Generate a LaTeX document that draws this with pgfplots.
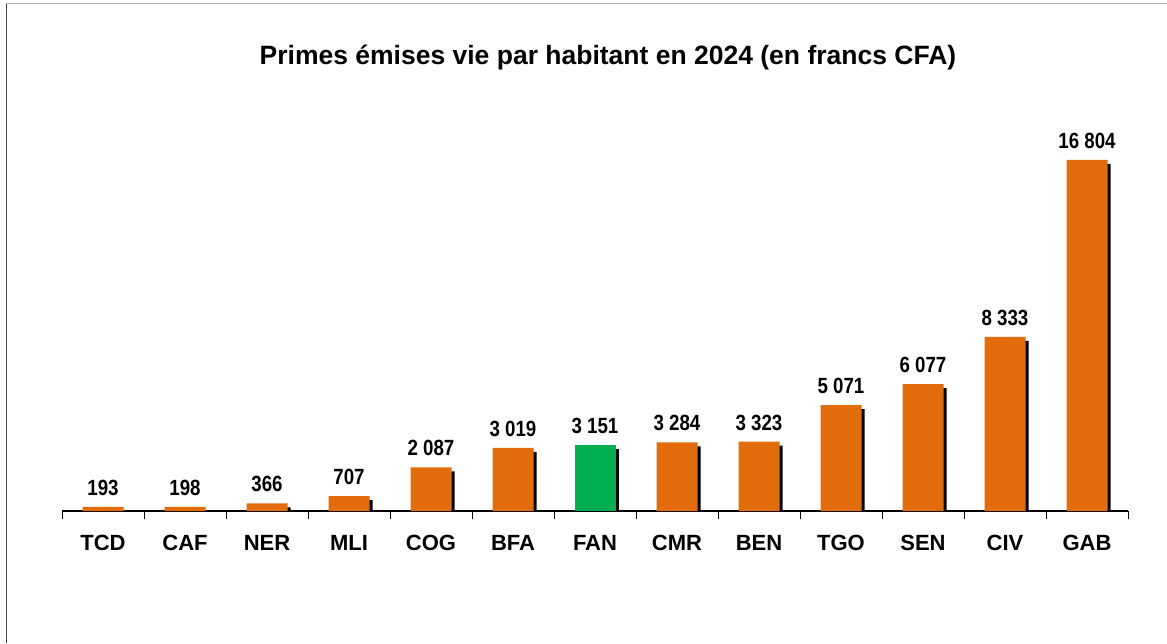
\documentclass[border=0pt]{standalone}
\usepackage{pgfplots}
\pgfplotsset{compat=1.18}
\usepackage{fontspec}
\setmainfont{Liberation Sans}
\newfontfamily\valfont[FakeStretch=0.85]{Liberation Sans}
\usetikzlibrary{shadows}
\definecolor{barorange}{HTML}{E36C0A}
\definecolor{bargreen}{HTML}{00B050}
\begin{document}
\begin{tikzpicture}[x=1pt,y=1pt]
\path[use as bounding box] (0,0) rectangle (1167,643);
\draw[black!75, line width=1pt] (6,0) -- (6,639);
\draw[black!30, line width=1pt] (6,639) -- (1167,639);
\node[font=\fontsize{26.5}{31}\selectfont\bfseries, anchor=base] at (608,578) {Primes émises vie par habitant en 2024 (en francs CFA)};
\begin{axis}[
  at={(62pt,132pt)}, anchor=south west,
  scale only axis, width=1066pt, height=376pt,
  xmin=-0.5, xmax=12.5, ymin=0, ymax=18000,
  axis y line=none, axis x line*=bottom,
  axis line style={black, line width=1.5pt},
  xtick={0,...,12},
  xticklabels={TCD,CAF,NER,MLI,COG,BFA,FAN,CMR,BEN,TGO,SEN,CIV,GAB},
  major tick length=0pt,
  minor xtick={-0.5,0.5,...,12.5},
  minor tick length=8pt,
  tick align=outside,
  minor tick style={black, line width=1pt},
  xticklabel style={font=\fontsize{22}{26}\selectfont\bfseries, inner sep=0pt, anchor=north, yshift=-24pt},
  /pgf/number format/assume math mode=true,
  /pgf/number format/1000 sep={\ },
  ybar, bar width=41pt,
  nodes near coords,
  nodes near coords style={font=\valfont\fontsize{22}{26}\selectfont\bfseries, anchor=south, inner sep=0pt, yshift=11pt, black},
]
\addplot[bar shift=0pt, fill=barorange, draw=none, drop shadow={shadow xshift=3pt, shadow yshift=-4pt, fill=black, opacity=1}] coordinates {
  (0,193) (1,198) (2,366) (3,707) (4,2087) (5,3019) (7,3284) (8,3323) (9,5071) (10,6077) (11,8333) (12,16804)
};
\addplot[bar shift=0pt, fill=bargreen, draw=none, drop shadow={shadow xshift=3pt, shadow yshift=-4pt, fill=black, opacity=1}] coordinates {
  (6,3151)
};
\end{axis}
\end{tikzpicture}
\end{document}
